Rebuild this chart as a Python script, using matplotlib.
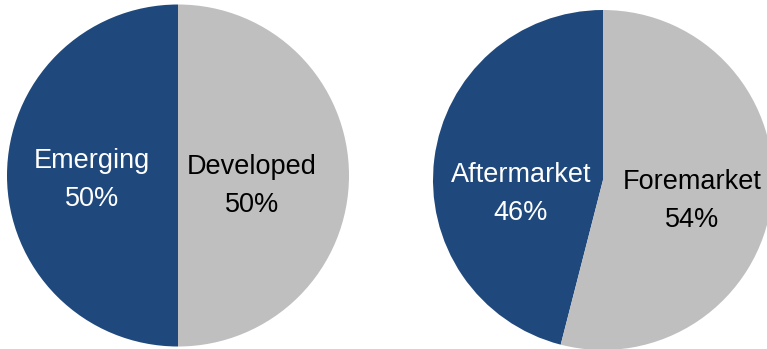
import matplotlib
matplotlib.use("Agg")
import matplotlib.pyplot as plt

# Data
region_labels = ["Emerging", "Developed"]
region_values = [50, 50]
market_labels = ["Aftermarket", "Foremarket"]
market_values = [46, 54]

BLUE = "#1F497D"
GRAY = "#BFBFBF"

family = "Liberation Sans"
fsize = 19.5

W, H = 767, 349
fig = plt.figure(figsize=(W / 100, H / 100), dpi=100)


def make_axes(cx, cy, r):
    return fig.add_axes([(cx - r) / W, (H - cy - r) / H, 2 * r / W, 2 * r / H])


def draw(ax, labels, values, text_pos):
    ax.pie(values, colors=[BLUE, GRAY], startangle=90, counterclock=True,
           radius=1.0, wedgeprops=dict(linewidth=0))
    ax.set_xlim(-1, 1)
    ax.set_ylim(-1, 1)
    ax.set_aspect("equal")
    ax.axis("off")
    for (lab, val), (x, y), col in zip(zip(labels, values), text_pos, ["white", "black"]):
        ax.text(x, y, f"{lab}\n{val}%", ha="center", va="center", color=col,
                fontsize=fsize, family=family, linespacing=1.58)


ax1 = make_axes(178, 175.5, 171)
draw(ax1, region_labels, region_values, [(-0.503, -0.025), (0.433, -0.063)])

ax2 = make_axes(603, 180, 170)
draw(ax2, market_labels, market_values, [(-0.482, -0.084), (0.524, -0.123)])

fig.savefig("out.png", dpi=100)
